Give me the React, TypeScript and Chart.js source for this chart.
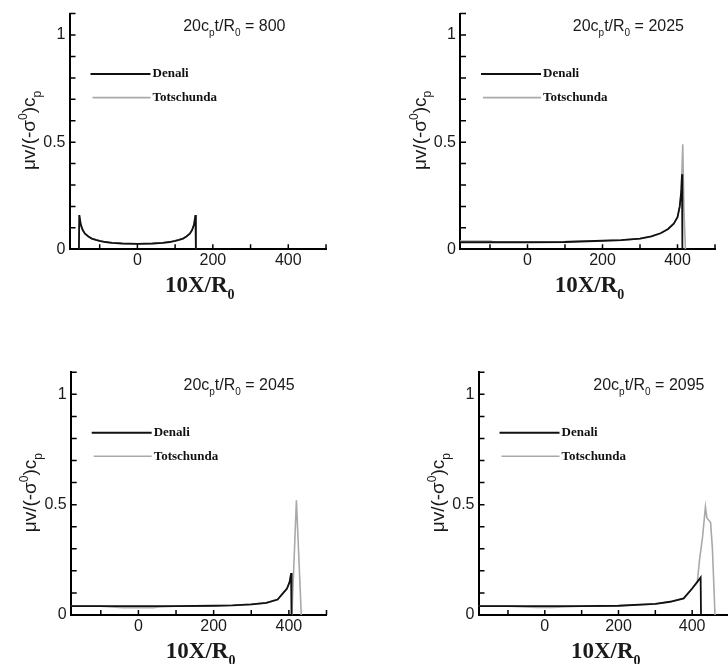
import React, { useEffect, useRef } from 'react';
import { Chart, registerables } from 'chart.js';

Chart.register(...registerables);

// ---------- data ----------
const xMin = -180;
const xMax = 500;
const yMin = 0;
const yMax = 1.1;
const xTickLabels = [0, 200, 400];
const yTickLabels = [0, 0.5, 1];
const seriesNames = ['Denali', 'Totschunda'];
const times = ['800', '2025', '2045', '2095'];

// panel 1 : 20c_p t/R_0 = 800
const denali1X = [-155, -154, -150, -145, -139, -130, -121, -110, -100, -85, -67, -40, 0, 40, 67, 85, 100, 110, 121, 130, 139, 145, 150, 154, 155];
const denali1Y = [0, 0.16, 0.115, 0.09, 0.073, 0.06, 0.05, 0.044, 0.039, 0.034, 0.03, 0.027, 0.025, 0.027, 0.03, 0.034, 0.039, 0.044, 0.05, 0.06, 0.073, 0.09, 0.115, 0.16, 0];
const tots1X = [-155, -154, -150, -145, -139, -130, -121, -110, -100, -85, -67, -40, 0, 40, 67, 85, 100, 110, 121, 130, 139, 145, 150, 154, 155];
const tots1Y = [0, 0.16, 0.115, 0.09, 0.073, 0.06, 0.05, 0.044, 0.039, 0.034, 0.03, 0.027, 0.025, 0.027, 0.03, 0.034, 0.039, 0.044, 0.05, 0.06, 0.073, 0.09, 0.115, 0.16, 0];

// panel 2 : 2025
const denali2X = [-180, -100, 0, 100, 200, 250, 300, 330, 355, 375, 390, 400, 406, 410, 412, 413];
const denali2Y = [0.033, 0.033, 0.033, 0.034, 0.04, 0.043, 0.05, 0.06, 0.075, 0.095, 0.12, 0.15, 0.2, 0.27, 0.35, 0];
const tots2X = [-180, -100, -85, 0, 85, 100, 200, 250, 300, 330, 355, 375, 390, 400, 406, 410, 414, 417, 421];
const tots2Y = [0.038, 0.038, 0.033, 0.033, 0.033, 0.036, 0.04, 0.043, 0.05, 0.06, 0.075, 0.095, 0.12, 0.15, 0.2, 0.27, 0.49, 0.2, 0];

// panel 3 : 2045
const denali3X = [-180, -100, 0, 100, 200, 250, 300, 340, 370, 384, 395, 402, 406, 407];
const denali3Y = [0.04, 0.04, 0.04, 0.04, 0.042, 0.044, 0.048, 0.055, 0.07, 0.098, 0.12, 0.15, 0.19, 0];
const tots3X = [-180, -100, -70, -40, 0, 40, 55, 100, 200, 250, 300, 340, 370, 384, 395, 402, 406, 408, 420, 433];
const tots3Y = [0.04, 0.04, 0.036, 0.033, 0.033, 0.033, 0.036, 0.04, 0.042, 0.044, 0.048, 0.055, 0.07, 0.098, 0.12, 0.15, 0.19, 0, 0.52, 0];

// panel 4 : 2095
const denali4X = [-180, -100, 0, 100, 200, 300, 340, 377, 400, 414, 423, 424];
const denali4Y = [0.04, 0.04, 0.04, 0.04, 0.042, 0.05, 0.06, 0.075, 0.12, 0.15, 0.17, 0];
const tots4X = [-180, -100, -52, -20, 20, 48, 100, 200, 300, 340, 377, 400, 414, 420, 428, 436, 440, 450, 455, 462];
const tots4Y = [0.04, 0.04, 0.037, 0.034, 0.034, 0.037, 0.04, 0.042, 0.05, 0.06, 0.075, 0.12, 0.15, 0.25, 0.35, 0.49, 0.44, 0.42, 0.3, 0];

const panelData = [
  { time: times[0], dx: denali1X, dy: denali1Y, tx: tots1X, ty: tots1Y },
  { time: times[1], dx: denali2X, dy: denali2Y, tx: tots2X, ty: tots2Y },
  { time: times[2], dx: denali3X, dy: denali3Y, tx: tots3X, ty: tots3Y },
  { time: times[3], dx: denali4X, dy: denali4Y, tx: tots4X, ty: tots4Y },
];

// ---------- layout (pixels) ----------
const panelBoxes = [
  { x: 0, y: 0, w: 364, h: 332, l: 69.5, r: 326, t: 7, b: 249.3, titleDx: 216 },
  { x: 364, y: 0, w: 364, h: 332, l: 96, r: 351, t: 7, b: 249.3, titleDx: 224 },
  { x: 0, y: 332, w: 364, h: 332, l: 70.7, r: 326.5, t: 40.3, b: 283, titleDx: 224 },
  { x: 364, y: 332, w: 372, h: 332, l: 114.5, r: 365, t: 40.3, b: 283, titleDx: 226 },
];

const SANS = "'Liberation Sans', Arial, Helvetica, sans-serif";
const SERIF = "'Liberation Serif', 'Times New Roman', serif";
const BLACK = '#111111';
const GRAY = '#a9a9a9';

type Seg = { t: string; s?: 'sub' | 'sup' };

function drawRich(
  ctx: CanvasRenderingContext2D,
  segs: Seg[],
  x: number,
  baseline: number,
  size: number,
  family: string,
  weight: string,
  align: 'left' | 'center' | 'right'
) {
  const fontFor = (sg: Seg) => `${weight} ${sg.s ? Math.round(size * 0.62) : size}px ${family}`;
  let total = 0;
  for (const sg of segs) {
    ctx.font = fontFor(sg);
    total += ctx.measureText(sg.t).width;
  }
  let cx = align === 'left' ? x : align === 'center' ? x - total / 2 : x - total;
  ctx.textAlign = 'left';
  ctx.textBaseline = 'alphabetic';
  for (const sg of segs) {
    ctx.font = fontFor(sg);
    const dy = sg.s === 'sub' ? size * 0.3 : sg.s === 'sup' ? -size * 0.42 : 0;
    ctx.fillText(sg.t, cx, baseline + dy);
    cx += ctx.measureText(sg.t).width;
  }
}

function makeDecor(box: any, time: string) {
  return {
    id: 'decor',
    afterDraw(chart: any) {
      const { ctx, chartArea } = chart;
      const xs = chart.scales.x;
      const ys = chart.scales.y;
      ctx.save();
      // inward tick marks
      ctx.strokeStyle = '#000';
      ctx.lineWidth = 1.5;
      ctx.beginPath();
      for (const t of xs.ticks) {
        const px = xs.getPixelForValue(t.value);
        ctx.moveTo(px, chartArea.bottom);
        ctx.lineTo(px, chartArea.bottom - 5);
      }
      for (const t of ys.ticks) {
        const py = ys.getPixelForValue(t.value);
        ctx.moveTo(chartArea.left, py);
        ctx.lineTo(chartArea.left + 6, py);
      }
      ctx.stroke();

      // legend inside the plot
      const ds = chart.data.datasets;
      const rows = [chartArea.top + 60.5, chartArea.top + 84];
      ds.forEach((d: any, i: number) => {
        const y = rows[i];
        const x0 = chartArea.left + (i === 0 ? 21 : 23);
        const x1 = chartArea.left + 81;
        ctx.strokeStyle = d.borderColor;
        ctx.lineWidth = i === 0 ? 2 : 1.6;
        ctx.beginPath();
        ctx.moveTo(x0, y);
        ctx.lineTo(x1, y);
        ctx.stroke();
        ctx.fillStyle = '#111';
        ctx.font = `bold 13px ${SERIF}`;
        ctx.textAlign = 'left';
        ctx.textBaseline = 'middle';
        ctx.fillText(d.label, x1 + 2, y);
      });

      // panel title
      ctx.fillStyle = '#1a1a1a';
      drawRich(
        ctx,
        [{ t: '20c' }, { t: 'p', s: 'sub' }, { t: 't/R' }, { t: '0', s: 'sub' }, { t: ' = ' + time }],
        chartArea.left + box.titleDx,
        chartArea.top + 12 + 5.6,
        16,
        SANS,
        'normal',
        'right'
      );

      // x axis title
      drawRich(
        ctx,
        [{ t: '10X/R' }, { t: '0', s: 'sub' }],
        (chartArea.left + chartArea.right) / 2 + 2,
        chartArea.bottom + 35 + 8,
        23,
        SERIF,
        'bold',
        'center'
      );

      // y axis title (rotated)
      ctx.translate(chartArea.left - 41, (chartArea.top + chartArea.bottom) / 2 - 1);
      ctx.rotate(-Math.PI / 2);
      drawRich(
        ctx,
        [{ t: 'μv/(-σ' }, { t: '0', s: 'sup' }, { t: ')c' }, { t: 'p', s: 'sub' }],
        0,
        6.5,
        19,
        SANS,
        'normal',
        'center'
      );
      ctx.restore();
    },
  };
}

function Panel({ idx }: { idx: number }) {
  const ref = useRef<HTMLCanvasElement>(null);
  const box = panelBoxes[idx];
  const pd = panelData[idx];
  useEffect(() => {
    const canvas = ref.current;
    if (!canvas) return;
    const chart = new Chart(canvas, {
      type: 'line',
      data: {
        datasets: [
          {
            label: seriesNames[0],
            data: pd.dx.map((x, i) => ({ x, y: pd.dy[i] })),
            borderColor: BLACK,
            borderWidth: 1.8,
            pointRadius: 0,
            tension: 0,
            fill: false,
          },
          {
            label: seriesNames[1],
            data: pd.tx.map((x, i) => ({ x, y: pd.ty[i] })),
            borderColor: GRAY,
            borderWidth: 1.6,
            pointRadius: 0,
            tension: 0,
            fill: false,
          },
        ],
      },
      options: {
        animation: false,
        responsive: false,
        maintainAspectRatio: false,
        events: [],
        layout: {
          autoPadding: false,
          padding: { left: 0, top: box.t, right: box.w - box.r, bottom: 0 },
        },
        plugins: {
          legend: { display: false },
          tooltip: { enabled: false },
          title: { display: false },
        },
        scales: {
          x: {
            type: 'linear',
            min: xMin,
            max: xMax,
            grid: { display: false, drawTicks: false },
            border: { display: true, color: '#000', width: 2 },
            afterFit: (s: any) => {
              s.height = box.h - box.b;
            },
            ticks: {
              stepSize: 100,
              includeBounds: false,
              autoSkip: false,
              maxRotation: 0,
              padding: 2,
              color: '#1a1a1a',
              font: { family: SANS, size: 16 },
              callback: (v: any) => {
                const m = xTickLabels.find((t) => Math.abs(t - Number(v)) < 1e-6);
                return m === undefined ? '' : String(m);
              },
            },
          },
          y: {
            type: 'linear',
            min: yMin,
            max: yMax,
            grid: { display: false, drawTicks: false },
            border: { display: true, color: '#000', width: 2 },
            afterFit: (s: any) => {
              s.width = box.l;
            },
            ticks: {
              stepSize: 0.1,
              includeBounds: false,
              autoSkip: false,
              padding: 4,
              color: '#1a1a1a',
              font: { family: SANS, size: 16 },
              callback: (v: any) => {
                const m = yTickLabels.find((t) => Math.abs(t - Number(v)) < 1e-6);
                return m === undefined ? '' : String(m);
              },
            },
          },
        },
      } as any,
      plugins: [makeDecor(box, pd.time)],
    });
    return () => chart.destroy();
  }, []);
  return (
    <canvas
      ref={ref}
      width={box.w}
      height={box.h}
      style={{ position: 'absolute', left: box.x, top: box.y, width: box.w, height: box.h }}
    />
  );
}

export default function App() {
  return (
    <div
      style={{
        position: 'absolute',
        left: 0,
        top: 0,
        width: 728,
        height: 664,
        overflow: 'hidden',
        background: '#fff',
      }}
    >
      {panelBoxes.map((_, i) => (
        <Panel key={i} idx={i} />
      ))}
    </div>
  );
}
